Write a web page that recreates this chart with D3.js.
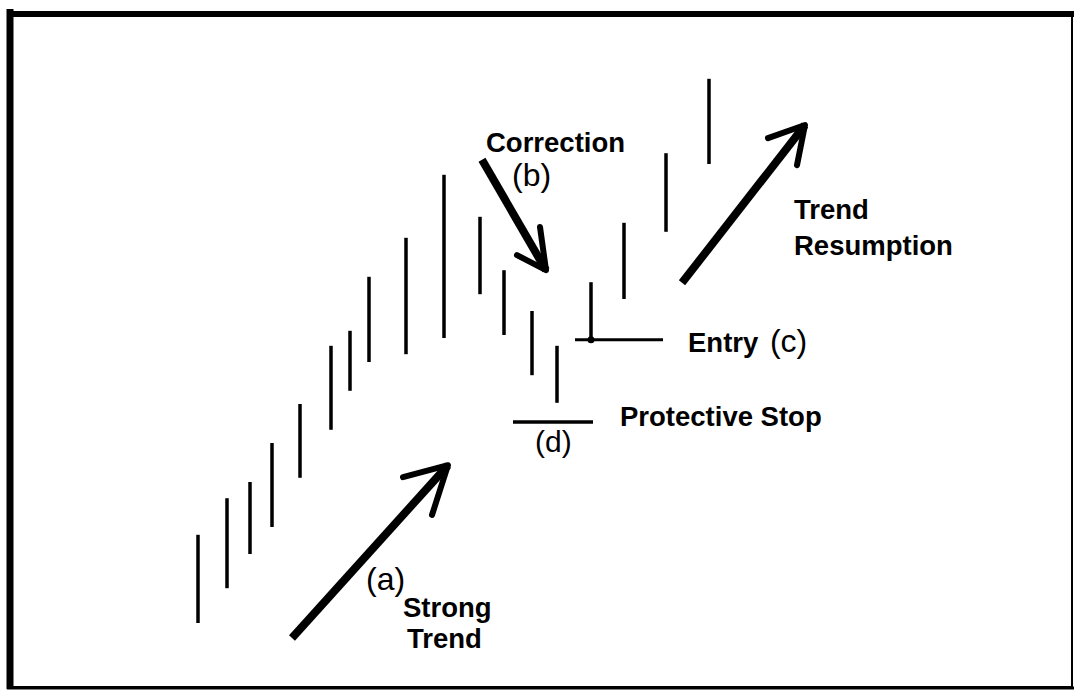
<!DOCTYPE html>
<html>
<head>
<meta charset="utf-8">
<script src="https://cdn.jsdelivr.net/npm/d3@7"></script>
<style>
  body { margin: 0; background: #fff; }
  text { font-family: "Liberation Sans", Arial, sans-serif; fill: #000; }
</style>
</head>
<body>
<div id="plot"></div>
<script>
let svgWidth = 1075
let svgHeight = 690

// bar times and high / low prices
let barTime = [4.8, 7.7, 10, 12.2, 15, 18.1, 20, 21.9, 25.6, 29.4, 33, 35.4, 38.2, 40.7, 44.1, 47.4, 51.6, 55.9]
let barHigh = [19.2, 25.3, 28, 34.5, 41, 50.7, 53.2, 62.2, 68.7, 79.2, 72.2, 63.3, 56.5, 50.7, 61.3, 71.2, 82.8, 95.2]
let barLow  = [4.5, 10.3, 16, 20.5, 28.7, 36.7, 43.2, 48, 49.3, 52, 59.3, 52.5, 45.8, 41.2, 51.2, 58.5, 69.7, 81]

// entry and stop levels
let entryLevel = 51.7
let entrySpan = [42.5, 51.3]
let stopLevel = 38
let stopSpan = [36.3, 44.3]

// arrows: [tail, tip, wing1, wing2] as [time, price]
let arrowTrend = [[14.2, 2], [29.8, 30.8], [25.3, 28.8], [28.2, 22.5]]
let arrowCorrection = [[33.2, 81.7], [39.6, 63.3], [39, 70.5], [36.7, 65.8]]
let arrowResume = [[53.2, 61.2], [65.5, 87.5], [61.8, 85.3], [64.7, 80.8]]

let svg = d3.select("#plot")
  .append("svg")
  .attr("width", svgWidth)
  .attr("height", svgHeight)

let x = d3.scaleLinear().domain([0, 60]).range([150, 750])
let y = d3.scaleLinear().domain([0, 100]).range([650, 50])

// frame
svg.append("rect")
  .attr("x", 9).attr("y", 12)
  .attr("width", 1063).attr("height", 675)
  .attr("fill", "none")
  .attr("stroke", "#000")
  .attr("stroke-width", 2)
svg.append("line").attr("x1", 10).attr("x2", 10).attr("y1", 9).attr("y2", 689)
  .attr("stroke", "#000").attr("stroke-width", 7)
svg.append("line").attr("x1", 7).attr("x2", 1074).attr("y1", 14).attr("y2", 14)
  .attr("stroke", "#000").attr("stroke-width", 6)
svg.append("line").attr("x1", 7).attr("x2", 1074).attr("y1", 688).attr("y2", 688)
  .attr("stroke", "#000").attr("stroke-width", 3)

let bars = barTime.map((t, i) => ({ t: t, hi: barHigh[i], lo: barLow[i] }))

svg.selectAll(".bar")
  .data(bars)
  .enter()
  .append("line")
  .attr("class", "bar")
  .attr("x1", d => x(d.t))
  .attr("x2", d => x(d.t))
  .attr("y1", d => y(d.hi))
  .attr("y2", d => y(d.lo))
  .attr("stroke", "#000")
  .attr("stroke-width", 3.5)

// entry line + dot, stop line
svg.append("line")
  .attr("x1", x(entrySpan[0])).attr("x2", x(entrySpan[1]))
  .attr("y1", y(entryLevel)).attr("y2", y(entryLevel))
  .attr("stroke", "#000").attr("stroke-width", 3)
svg.append("circle")
  .attr("cx", x(barTime[14])).attr("cy", y(entryLevel))
  .attr("r", 3.5).attr("fill", "#000")
svg.append("line")
  .attr("x1", x(stopSpan[0])).attr("x2", x(stopSpan[1]))
  .attr("y1", y(stopLevel)).attr("y2", y(stopLevel))
  .attr("stroke", "#000").attr("stroke-width", 3.5)

let line = d3.line().x(d => x(d[0])).y(d => y(d[1]))

function drawArrow(a) {
  svg.append("path")
    .attr("d", line([a[0], a[1]]))
    .attr("fill", "none").attr("stroke", "#000")
    .attr("stroke-width", 8).attr("stroke-linecap", "butt")
  svg.append("path")
    .attr("d", line([a[2], a[1], a[3]]))
    .attr("fill", "none").attr("stroke", "#000")
    .attr("stroke-width", 6).attr("stroke-linecap", "round")
    .attr("stroke-linejoin", "round")
}
drawArrow(arrowTrend)
drawArrow(arrowCorrection)
drawArrow(arrowResume)

// labels
function label(tx, ty, str, size, weight) {
  return svg.append("text")
    .attr("x", tx).attr("y", ty)
    .attr("font-size", size)
    .attr("font-weight", weight)
    .text(str)
}
label(486, 152, "Correction", 27.5, "bold")
label(512, 186, "(b)", 32, "normal")
label(794, 219, "Trend", 27.5, "bold")
label(794, 255, "Resumption", 27.5, "bold")
let entry = label(688, 352, "Entry ", 27.5, "bold")
entry.append("tspan").attr("dx", 4).attr("font-size", 32).attr("font-weight", "normal").text("(c)")
label(620, 426, "Protective Stop", 27.5, "bold")
label(535, 452, "(d)", 30, "normal")
label(366, 590, "(a)", 32, "normal")
label(403, 617, "Strong", 27.5, "bold")
label(407, 648, "Trend", 27.5, "bold")
</script>
</body>
</html>
